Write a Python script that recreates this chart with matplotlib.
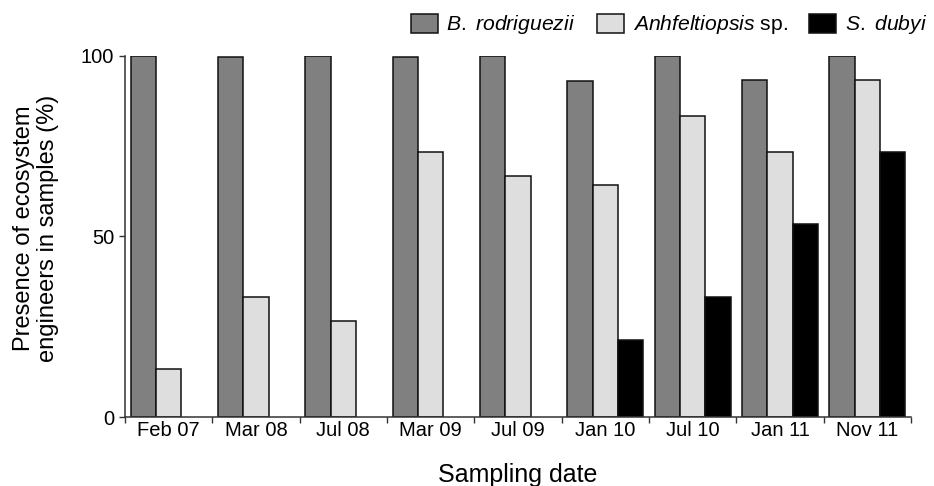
import numpy as np
import matplotlib
matplotlib.use("Agg")
import matplotlib.pyplot as plt
from matplotlib.patches import Patch

# Presence of each engineer species per sampling date (%)
dates = ["Feb 07", "Mar 08", "Jul 08", "Mar 09", "Jul 09", "Jan 10", "Jul 10", "Jan 11", "Nov 11"]
b_rodriguezii = [100, 99.7, 100, 99.7, 100, 92.9, 100, 93.3, 100]
anhfeltiopsis = [13.3, 33.3, 26.7, 73.3, 66.7, 64.3, 83.3, 73.3, 93.3]
s_dubyi = [0, 0, 0, 0, 0, 21.4, 33.3, 53.3, 73.3]

plt.rcParams["font.family"] = "Liberation Sans"
plt.rcParams["mathtext.fontset"] = "custom"
plt.rcParams["mathtext.rm"] = "Liberation Sans"
plt.rcParams["mathtext.it"] = "Liberation Sans:italic"

fig = plt.figure(figsize=(9.34, 4.86), dpi=100)
ax = fig.add_axes([125 / 934, 69 / 486, 786 / 934, 361.3 / 486])

x = np.arange(len(dates))
w = 0.29
colors = ["#808080", "#dedede", "#000000"]
series = [b_rodriguezii, anhfeltiopsis, s_dubyi]
for k, (vals, c) in enumerate(zip(series, colors)):
    vals = np.asarray(vals, dtype=float)
    keep = vals > 0  # absent species get no bar
    ax.bar(x[keep] + (k - 1) * w, vals[keep], width=w, color=c,
           edgecolor="#111111", linewidth=1.1)

ax.set_xlim(-0.5, len(dates) - 0.5)
ax.set_ylim(0, 100)

# date labels centred under each group, tick marks between groups
ax.set_xticks(x)
ax.set_xticklabels(dates)
ax.set_xticks(np.arange(-0.5, len(dates), 1), minor=True)
ax.tick_params(axis="x", which="major", length=0, pad=3.0, labelsize=14.5)
ax.tick_params(axis="x", which="minor", length=4, width=1, color="#333333")
ax.set_yticks([0, 50, 100])
ax.tick_params(axis="y", length=4.3, width=1, pad=3.6, labelsize=14.5, color="#333333")

for s in ["top", "right"]:
    ax.spines[s].set_visible(False)
for s in ["left", "bottom"]:
    ax.spines[s].set_linewidth(1.1)
    ax.spines[s].set_color("#333333")

ax.set_xlabel("Sampling date", fontsize=18)
ax.xaxis.set_label_coords(0.5, -0.126)
ax.xaxis.label.set_va("top")
ax.set_ylabel("Presence of ecosystem\nengineers in samples (%)", fontsize=17, va="center",
              linespacing=1.15)
ax.yaxis.set_label_coords(-0.113, 0.523)

handles = [Patch(facecolor=c, edgecolor="#111111", linewidth=1.1) for c in colors]
labels = [r"$\mathit{B.\ rodriguezii}$", r"$\mathit{Anhfeltiopsis}$ sp.", r"$\mathit{S.\ dubyi}$"]
fig.legend(handles, labels, ncol=3, loc="center", bbox_to_anchor=(0.716, 0.949),
           frameon=False, fontsize=15.2, handlelength=1.3, handleheight=1.0,
           handletextpad=0.4, columnspacing=1.0, borderpad=0)

fig.savefig("out.png", dpi=100)
